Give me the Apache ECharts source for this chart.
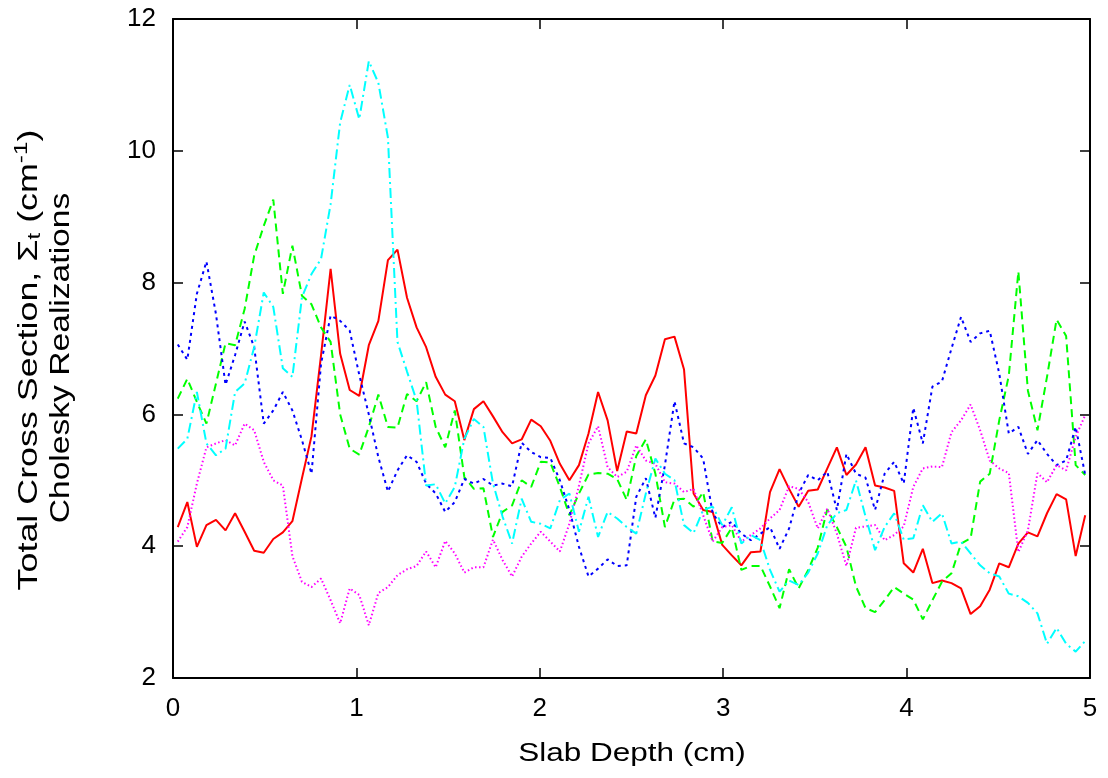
<!DOCTYPE html>
<html>
<head>
<meta charset="utf-8">
<script src="https://cdn.jsdelivr.net/npm/echarts@6/dist/echarts.min.js"></script>
<style>
html,body{margin:0;padding:0;background:#fff;}
#chart{width:1108px;height:778px;}
</style>
</head>
<body>
<div id="chart"></div>
<script>
// Slab depth grid: 96 cells on [0,5] cm, values at cell centres
const nCells = 96;
const slabLength = 5;
const xTicks = [0, 1, 2, 3, 4, 5];
const yTicks = [2, 4, 6, 8, 10, 12];
const xTitle = 'Slab Depth (cm)';
const yTitleLine1 = '{n|Total Cross Section, Σ}{sub|t}{n| (cm}{sup|-1}{n|)}';
const yTitleLine2 = 'Cholesky Realizations';

const red = [4.29,4.67,3.99,4.32,4.40,4.24,4.50,4.22,3.93,3.90,
  4.11,4.21,4.38,5.03,5.67,6.90,8.21,6.92,6.37,6.28,
  7.05,7.42,8.34,8.50,7.77,7.32,7.02,6.57,6.30,6.20,
  5.61,6.08,6.20,5.97,5.73,5.56,5.62,5.92,5.82,5.60,
  5.25,5.00,5.23,5.71,6.34,5.91,5.14,5.74,5.71,6.29,
  6.59,7.14,7.18,6.68,4.80,4.55,4.52,4.02,3.86,3.71,
  3.91,3.92,4.82,5.17,4.87,4.60,4.84,4.86,5.18,5.50,
  5.08,5.24,5.50,4.92,4.89,4.84,3.74,3.60,3.96,3.44,
  3.48,3.44,3.36,2.97,3.09,3.34,3.74,3.68,4.04,4.21,
  4.15,4.50,4.79,4.71,3.85,4.47];

const green = [6.24,6.54,6.19,5.86,6.47,7.08,7.05,7.60,8.41,8.86,
  9.26,7.83,8.56,7.80,7.67,7.32,7.10,6.00,5.48,5.39,
  5.81,6.30,5.81,5.80,6.31,6.20,6.49,5.81,5.50,6.06,
  5.05,4.87,4.88,4.14,4.52,4.62,5.00,4.90,5.28,5.27,
  4.90,4.47,4.80,5.09,5.11,5.10,5.02,4.70,5.37,5.62,
  5.10,4.29,4.71,4.72,4.60,4.82,4.07,4.05,4.28,3.64,
  3.70,3.70,3.39,3.06,3.65,3.36,3.64,3.98,4.56,4.29,
  3.99,3.39,3.06,3.00,3.18,3.38,3.28,3.19,2.89,3.18,
  3.46,3.59,4.04,4.12,4.98,5.10,5.91,6.59,8.17,6.36,
  5.76,6.57,7.44,7.19,5.23,5.08];

const blue = [7.06,6.83,7.83,8.32,7.52,6.45,6.90,7.41,7.02,5.86,
  6.06,6.34,6.06,5.61,5.10,6.77,7.50,7.42,7.27,6.60,
  6.00,5.35,4.83,5.15,5.38,5.28,4.95,4.80,4.52,4.67,
  5.02,4.95,5.02,4.92,4.95,4.91,5.57,5.43,5.35,5.34,
  5.00,4.55,3.99,3.54,3.66,3.80,3.70,3.71,4.75,5.03,
  4.43,5.23,6.20,5.56,5.50,5.33,4.50,4.29,4.37,4.19,
  4.09,4.19,4.29,3.96,4.27,4.80,5.08,5.00,5.13,4.55,
  5.40,5.10,5.04,4.55,5.10,5.28,4.95,6.10,5.56,6.42,
  6.50,7.00,7.48,7.10,7.23,7.27,6.62,5.71,5.81,5.40,
  5.61,5.40,5.23,5.30,5.81,5.08];

const magenta = [4.07,4.29,4.95,5.50,5.56,5.61,5.53,5.86,5.76,5.28,
  5.00,4.92,3.85,3.46,3.38,3.51,3.18,2.83,3.36,3.26,
  2.80,3.29,3.38,3.56,3.65,3.70,3.92,3.68,4.08,3.89,
  3.60,3.68,3.68,4.10,3.79,3.54,3.84,4.04,4.22,4.07,
  3.92,4.34,4.92,5.56,5.82,5.20,5.05,5.13,5.53,5.30,
  5.25,4.97,4.95,4.82,4.87,4.47,4.07,4.29,4.32,4.07,
  4.17,4.27,4.42,4.55,4.91,4.87,4.67,4.27,4.57,4.19,
  3.70,4.28,4.30,4.32,4.09,4.17,4.30,4.90,5.18,5.21,
  5.20,5.73,5.91,6.15,5.76,5.30,5.18,5.11,3.91,4.24,
  5.11,4.97,5.23,5.15,5.66,5.99];

const cyan = [5.48,5.63,6.34,5.56,5.38,5.48,6.34,6.47,7.02,7.85,
  7.63,6.70,6.57,7.78,8.13,8.36,9.19,10.43,11.00,10.48,
  11.36,11.03,10.20,7.10,6.65,6.21,4.92,4.94,4.65,4.90,
  5.63,5.93,5.81,4.95,4.45,4.04,4.72,4.37,4.34,4.27,
  4.70,4.80,4.22,4.75,4.14,4.52,4.42,4.29,4.19,4.80,
  5.33,5.10,5.00,4.32,4.20,4.55,4.60,4.32,4.59,4.04,
  4.17,4.09,3.64,3.31,3.48,3.41,3.60,3.89,4.32,4.50,
  4.55,5.00,4.45,3.94,4.29,4.50,4.10,4.12,4.62,4.37,
  4.50,4.04,4.07,3.89,3.71,3.59,3.54,3.28,3.24,3.14,
  2.98,2.52,2.76,2.52,2.40,2.56];

const depth = [];
for (let i = 0; i < nCells; i++) depth.push((i + 0.5) * slabLength / nCells);

function pairs(vals) { return vals.map((v, i) => [depth[i], v]); }

const FONT = '"Liberation Sans", Arial, Helvetica, sans-serif';

const chart = echarts.init(document.getElementById('chart'), null, {renderer: 'canvas'});

const tickStyle = {show: true, inside: true, length: 10, lineStyle: {color: '#000', width: 1.5}};
const lineAx = {show: true, onZero: false, lineStyle: {color: '#000', width: 2}};

const seriesDefs = [
  {name: 'r1', data: red, color: '#ff0000', type: 'solid'},
  {name: 'r2', data: green, color: '#00ff00', type: [8, 5]},
  {name: 'r3', data: blue, color: '#0000ff', type: [3, 4]},
  {name: 'r4', data: magenta, color: '#ff00ff', type: [1.5, 2.5]},
  {name: 'r5', data: cyan, color: '#00ffff', type: [10, 4, 2, 4]}
];

function textEl(x, y, rot, sx, text, size, rich) {
  return {
    type: 'text', x: x, y: y, rotation: rot, scaleX: sx, scaleY: 1, silent: true,
    style: {
      text: text, fill: '#000', fontSize: size, fontFamily: FONT,
      font: size + 'px ' + FONT,
      align: 'center', verticalAlign: 'middle',
      textAlign: 'center', textVerticalAlign: 'middle',
      rich: rich
    }
  };
}

const yRich = {
  n: {fontSize: 28, fontFamily: FONT, fill: '#000', color: '#000', lineHeight: 34},
  sub: {fontSize: 19, fontFamily: FONT, fill: '#000', color: '#000', lineHeight: 34, padding: [12, 0, 0, 0]},
  sup: {fontSize: 19, fontFamily: FONT, fill: '#000', color: '#000', lineHeight: 34, padding: [0, 0, 14, 0]}
};

chart.setOption({
  animation: false,
  backgroundColor: '#fff',
  grid: {left: 173, right: 18, top: 19, bottom: 100, containLabel: false},
  xAxis: [
    {
      type: 'value', min: xTicks[0], max: xTicks[xTicks.length - 1], interval: 1,
      position: 'bottom',
      axisLine: lineAx, axisTick: tickStyle, splitLine: {show: false},
      axisLabel: {color: '#000', fontSize: 26, fontFamily: FONT, margin: 18}
    },
    {
      type: 'value', min: xTicks[0], max: xTicks[xTicks.length - 1], interval: 1,
      position: 'top',
      axisLine: lineAx, axisTick: tickStyle, splitLine: {show: false},
      axisLabel: {show: false}
    }
  ],
  yAxis: [
    {
      type: 'value', min: yTicks[0], max: yTicks[yTicks.length - 1], interval: 2,
      position: 'left',
      axisLine: lineAx, axisTick: tickStyle, splitLine: {show: false},
      axisLabel: {color: '#000', fontSize: 26, fontFamily: FONT, margin: 17}
    },
    {
      type: 'value', min: yTicks[0], max: yTicks[yTicks.length - 1], interval: 2,
      position: 'right',
      axisLine: lineAx, axisTick: tickStyle, splitLine: {show: false},
      axisLabel: {show: false}
    }
  ],
  graphic: [
    textEl(632, 754, 0, 1.26, xTitle, 25),
    textEl(29, 360, Math.PI / 2, 1.28, yTitleLine1, 28, yRich),
    textEl(61, 358, Math.PI / 2, 1.2, yTitleLine2, 28)
  ],
  series: seriesDefs.map(s => ({
    name: s.name, type: 'line', data: pairs(s.data),
    xAxisIndex: 0, yAxisIndex: 0,
    showSymbol: false, symbol: 'none', smooth: false,
    lineStyle: {color: s.color, width: 2, type: s.type},
    itemStyle: {color: s.color},
    emphasis: {disabled: true}
  }))
});
</script>
</body>
</html>
